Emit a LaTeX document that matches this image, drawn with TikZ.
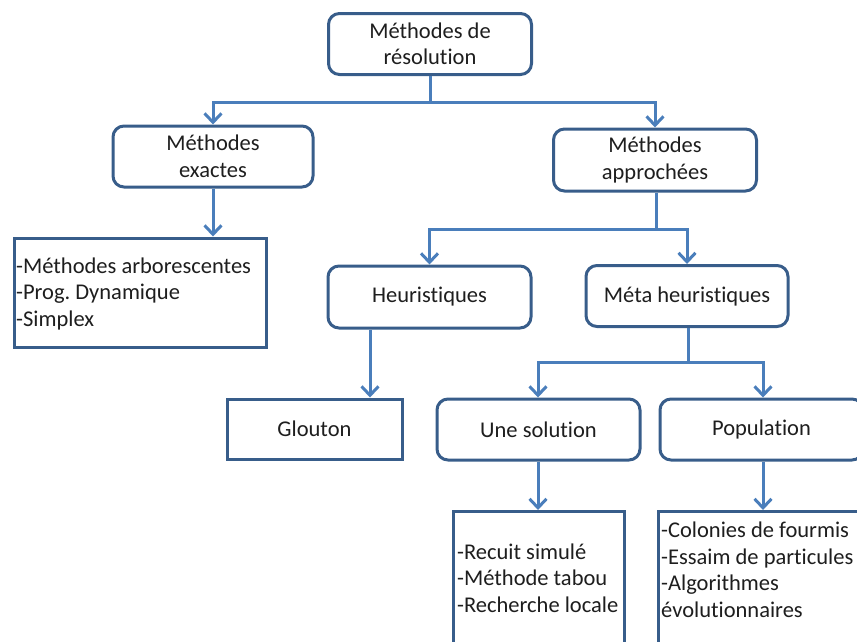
\documentclass[tikz,border=0pt]{standalone}
\usepackage{fontspec}
\setmainfont{Carlito}[Ligatures=NoCommon]
\usetikzlibrary{arrows.meta,calc}
\definecolor{boxblue}{RGB}{56,93,138}
\definecolor{arrowblue}{RGB}{74,126,187}
\definecolor{txt}{RGB}{30,30,30}
\frenchspacing
\begin{document}
\begin{tikzpicture}[x=1pt,y=-1pt,
  basebox/.style={draw=boxblue, line width=3pt, fill=white, text=txt,
    font=\fontsize{22.5}{26.5}\selectfont, inner sep=0pt, align=center},
  rbox/.style={basebox, rounded corners=11pt},
  sbox/.style={basebox},
  conn/.style={draw=arrowblue, line width=3pt},
  arr/.style={conn, -{Straight Barb[length=9pt,width=17pt]}},
  listtext/.style={text=txt, font=\fontsize{22.5}{26.5}\selectfont, inner sep=0pt, align=left}
]
\useasboundingbox (0,0) rectangle (857,641);
\clip (0,0) rectangle (857,641);

% nodes
\node[rbox, minimum width=203pt, minimum height=61pt] (root) at (430,44) {Méthodes de\\résolution};
\node[rbox, minimum width=200pt, minimum height=61pt] (exact) at (213,156.5) {Méthodes\\exactes};
\node[rbox, minimum width=203pt, minimum height=62pt] (approx) at (655,160) {Méthodes\\approchées};
\node[sbox, minimum width=252pt, minimum height=109pt] (exlist) at (140,292.5) {};
\node[listtext, anchor=west] (extxt) at (16,293.5)
  {-Méthodes arborescentes\\-Prog. Dynamique\\-Simplex};
\node[rbox, minimum width=203pt, minimum height=62pt] (heur) at (429.5,297) {Heuristiques};
\node[rbox, minimum width=202pt, minimum height=61pt] (meta) at (687,296) {Méta heuristiques};
\node[sbox, minimum width=175pt, minimum height=60pt] (glouton) at (314.5,429) {Glouton};
\node[rbox, minimum width=203pt, minimum height=61pt] (unesol) at (538.5,429.5) {Une solution};
\node[rbox, minimum width=203pt, minimum height=61pt] (pop) at (761.5,429.5) {Population};
\node[sbox, minimum width=171pt, minimum height=150pt, anchor=north] (sollist) at (538.5,510) {};
\node[listtext, anchor=west] (soltxt) at (457,578)
  {-Recuit simulé\\-Méthode tabou\\-Recherche locale};
\node[sbox, minimum width=211pt, minimum height=150pt, anchor=north] (poplist) at (763.5,510) {};
\node[listtext, anchor=west] (poptxt) at (661,570)
  {-Colonies de fourmis\\-Essaim de particules\\-Algorithmes\\évolutionnaires};

% junctions
\coordinate (j1) at (430,102);
\coordinate (j2) at (656,229);
\coordinate (j3) at (688,362);

% connectors
\draw[conn] (root.south) -- (j1);
\draw[arr] (j1) -| (exact.north);
\draw[arr] (j1) -| (approx.north);
\draw[arr] (exact.south) -- (exact.south |- exlist.north);
\draw[conn] (approx.south -| j2) -- (j2);
\draw[arr] (j2) -| (heur.north);
\draw[arr] (j2) -| (meta.north);
\draw[arr] (heur.south -| 370,0) -- (glouton.north -| 370,0);
\draw[conn] (meta.south -| j3) -- (j3);
\draw[arr] (j3) -| (unesol.north -| 538,0);
\draw[arr] (j3) -| (pop.north -| 763,0);
\draw[arr] (unesol.south -| 538,0) -- (sollist.north -| 538,0);
\draw[arr] (pop.south -| 763,0) -- (poplist.north -| 763,0);
\end{tikzpicture}
\end{document}
